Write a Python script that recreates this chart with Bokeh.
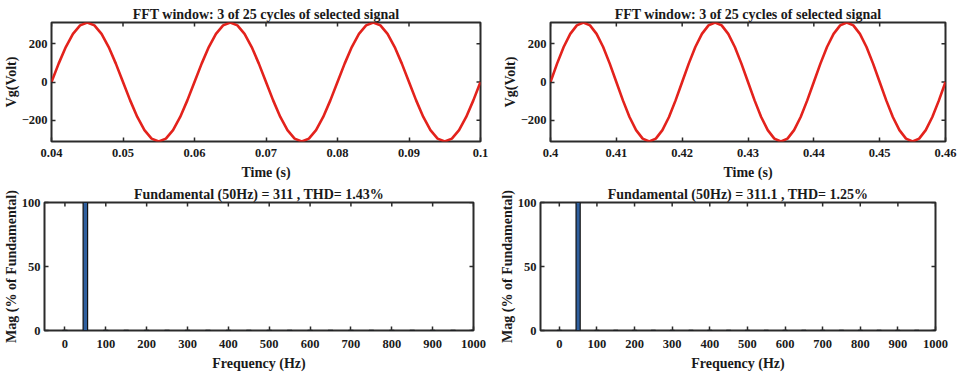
import math
from bokeh.plotting import figure
from bokeh.layouts import column, row
from bokeh.models import Range1d, FixedTicker, NumeralTickFormatter
from bokeh.embed import file_html
from bokeh.resources import INLINE

# ---------------- data ----------------
titles_top = ["FFT window: 3 of 25 cycles of selected signal",
              "FFT window: 3 of 25 cycles of selected signal"]
titles_bottom = ["Fundamental (50Hz) = 311 , THD= 1.43%",
                 "Fundamental (50Hz) = 311.1 , THD= 1.25%"]

t_start_left = 0.040
t_start_right = 0.400
t_step = 0.001

vg_left = [0, 96.1, 182.8, 251.6, 295.8, 311.0, 295.8, 251.6, 182.8, 96.1,
           0, -96.1, -182.8, -251.6, -295.8, -311.0, -295.8, -251.6, -182.8, -96.1,
           0, 96.1, 182.8, 251.6, 295.8, 311.0, 295.8, 251.6, 182.8, 96.1,
           0, -96.1, -182.8, -251.6, -295.8, -311.0, -295.8, -251.6, -182.8, -96.1,
           0, 96.1, 182.8, 251.6, 295.8, 311.0, 295.8, 251.6, 182.8, 96.1,
           0, -96.1, -182.8, -251.6, -295.8, -311.0, -295.8, -251.6, -182.8, -96.1,
           0]
vg_right = [0, 96.1, 182.9, 251.7, 295.9, 311.1, 295.9, 251.7, 182.9, 96.1,
            0, -96.1, -182.9, -251.7, -295.9, -311.1, -295.9, -251.7, -182.9, -96.1,
            0, 96.1, 182.9, 251.7, 295.9, 311.1, 295.9, 251.7, 182.9, 96.1,
            0, -96.1, -182.9, -251.7, -295.9, -311.1, -295.9, -251.7, -182.9, -96.1,
            0, 96.1, 182.9, 251.7, 295.9, 311.1, 295.9, 251.7, 182.9, 96.1,
            0, -96.1, -182.9, -251.7, -295.9, -311.1, -295.9, -251.7, -182.9, -96.1,
            0]

harm_freq = [0, 50, 100, 150, 200, 250, 300, 350, 400, 450, 500,
             550, 600, 650, 700, 750, 800, 850, 900, 950, 1000]
mag_left = [0.1, 100, 0.1, 0.2, 0.1, 0.2, 0.1, 0.2, 0.1, 0.1, 0.1,
            0.1, 0.1, 0.1, 0.1, 0.1, 0.1, 0.1, 0.1, 0.1, 0.1]
mag_right = [0.1, 100, 0.1, 0.2, 0.1, 0.1, 0.1, 0.1, 0.1, 0.1, 0.1,
             0.1, 0.1, 0.1, 0.1, 0.1, 0.1, 0.1, 0.1, 0.1, 0.1]

xticks_left = [0.04, 0.05, 0.06, 0.07, 0.08, 0.09, 0.1]
xticks_right = [0.40, 0.41, 0.42, 0.43, 0.44, 0.45, 0.46]
yticks_top = [-200, 0, 200]
xticks_fft = [0, 100, 200, 300, 400, 500, 600, 700, 800, 900, 1000]
yticks_fft = [0, 50, 100]

t_left = [round(t_start_left + i * t_step, 3) for i in range(len(vg_left))]
t_right = [round(t_start_right + i * t_step, 3) for i in range(len(vg_right))]

# ---------------- style ----------------
FONT = "Liberation Serif"
INK = "#1a1a1a"
FRAME = "#2b2b2b"
RED = "#e3221c"
BLUE = "#2f5f9e"


def make_fig(title, x0, x1, y0, y1, xticks, yticks, xlabel, ylabel,
             fw, fh, bl, br, bt, bb, tick_standoff, label_standoff, xfmt=None):
    p = figure(frame_width=fw, frame_height=fh,
               x_range=Range1d(x0, x1), y_range=Range1d(y0, y1),
               output_backend="svg", toolbar_location=None,
               min_border_left=bl, min_border_right=br,
               min_border_top=bt, min_border_bottom=bb,
               x_axis_label=xlabel, y_axis_label=ylabel)
    p.title.text = title
    p.title.align = "center"
    p.title.text_font = FONT
    p.title.text_font_size = "14px"
    p.title.text_font_style = "bold"
    p.title.text_color = INK
    p.title.standoff = 2
    p.xgrid.visible = False
    p.ygrid.visible = False
    p.outline_line_color = FRAME
    p.outline_line_width = 2
    p.background_fill_color = "white"
    p.border_fill_color = "white"
    p.xaxis.ticker = FixedTicker(ticks=xticks)
    p.yaxis.ticker = FixedTicker(ticks=yticks)
    if xfmt is not None:
        p.xaxis.formatter = xfmt
    for ax in (p.xaxis[0], p.yaxis[0]):
        ax.axis_line_color = None
        ax.major_tick_in = 4
        ax.major_tick_out = 0
        ax.major_tick_line_color = FRAME
        ax.major_tick_line_width = 1.5
        ax.minor_tick_line_color = None
        ax.major_label_text_font = FONT
        ax.major_label_text_font_size = "12.5px"
        ax.major_label_text_font_style = "bold"
        ax.major_label_text_color = INK
        ax.axis_label_text_font = FONT
        ax.axis_label_text_font_size = "14px"
        ax.axis_label_text_font_style = "bold"
        ax.axis_label_text_color = INK
    p.xaxis.major_label_standoff = tick_standoff
    p.xaxis.axis_label_standoff = label_standoff
    p.yaxis.major_label_standoff = 4
    p.yaxis.axis_label_standoff = 0
    # inward tick marks on the top and right edges (box style)
    p.ray(x=xticks, y=[y1] * len(xticks), length=4, length_units="screen",
          angle=-math.pi / 2, line_color=FRAME, line_width=1.5)
    p.ray(x=[x1] * len(yticks), y=yticks, length=4, length_units="screen",
          angle=math.pi, line_color=FRAME, line_width=1.5)
    return p


fmt = NumeralTickFormatter(format="0.0[0]")

p1 = make_fig(titles_top[0], 0.04, 0.1, -311, 311,
              xticks_left, yticks_top, "Time (s)", "Vg(Volt)",
              429, 119, 44, 19, 22, 42, 7, 5, xfmt=fmt)
p1.line(t_left, vg_left, line_color=RED, line_width=2.6)

p2 = make_fig(titles_top[1], 0.40, 0.46, -311, 311,
              xticks_right, yticks_top, "Time (s)", "Vg(Volt)",
              395, 119, 48, 14, 22, 42, 7, 5, xfmt=fmt)
p2.line(t_right, vg_right, line_color=RED, line_width=2.6)

p3 = make_fig(titles_bottom[0], -50, 1000, 0, 100,
              xticks_fft, yticks_fft, "Frequency (Hz)", "Mag (% of Fundamental)",
              429, 128, 44, 19, 19, 44, 9, 5)
p3.vbar(x=harm_freq, top=mag_left, width=11, bottom=0,
        fill_color=BLUE, line_color="#111111", line_width=1.2)

p4 = make_fig(titles_bottom[1], -50, 1000, 0, 100,
              xticks_fft, yticks_fft, "Frequency (Hz)", "Mag (% of Fundamental)",
              395, 128, 48, 14, 19, 44, 9, 5)
p4.vbar(x=harm_freq, top=mag_right, width=11, bottom=0,
        fill_color=BLUE, line_color="#111111", line_width=1.2)

layout = column(row(p1, p2), row(p3, p4))

open("out.html", "w").write(file_html(layout, INLINE))
